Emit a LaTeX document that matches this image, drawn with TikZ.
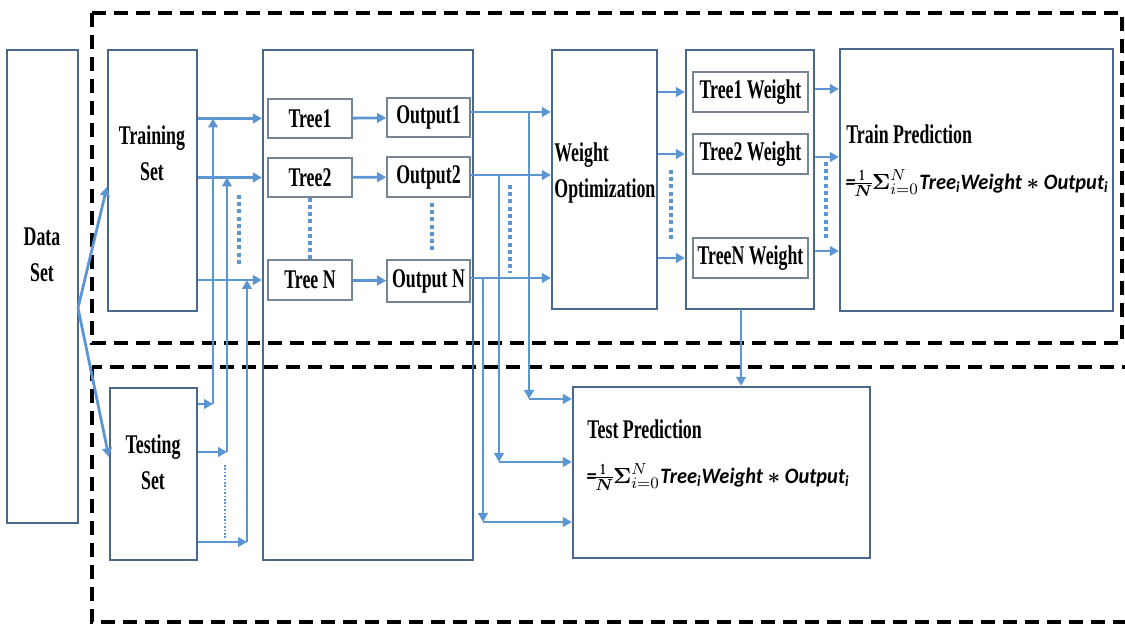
\documentclass[tikz,border=0pt]{standalone}
\usepackage{amsmath}
\usepackage{fontspec}
\setmainfont{Liberation Serif}[FakeStretch=0.66]
\newfontfamily\fml{Carlito}[FakeStretch=0.93]
\usetikzlibrary{arrows.meta,fit}
\definecolor{boxc}{RGB}{72,104,140}
\definecolor{itemc}{RGB}{118,132,148}
\definecolor{arrc}{RGB}{91,150,210}
% weighted-average formula used by both prediction boxes
\newcommand{\wavg}{=\kern-0.6pt$\nulldelimiterspace0pt\frac{\mathbf{1}}{\boldsymbol{N}}\boldsymbol{\Sigma}_{i=0}^{N}$\kern0.3pt Tree\textsubscript{i}Weight $\boldsymbol{*}$ Output\textsubscript{i}}
\begin{document}
\begin{tikzpicture}[x=0.5pt,y=-0.5pt,
  box/.style={draw=boxc,line width=1.1pt,inner sep=0pt},
  item/.style={draw=itemc,line width=0.8pt,inner sep=0pt},
  lbl/.style={font=\fontsize{13.5}{18}\selectfont\bfseries,align=center,inner sep=0pt},
  arr/.style={draw=arrc,line width=1.4pt,-{Triangle[length=4.5pt,width=4.8pt]}},
  dots/.style={draw=arrc,line width=2pt,dash pattern=on 2pt off 1.6pt},
  thindots/.style={draw=arrc,line width=0.6pt,dash pattern=on 0.8pt off 0.9pt},
  region/.style={draw=black,line width=2pt,dash pattern=on 7pt off 4pt},
  fml/.style={font=\fml\bfseries\itshape\fontsize{11}{14}\selectfont,inner sep=0pt,anchor=west}]
\useasboundingbox (0,0) rectangle (1125,625);

% training and testing regions
\draw[region] (92,13) rectangle (1122,343);
\draw[region] (92,367) rectangle (1140,622);

% boxes
\node[box,fit={(7,50)(78,523)}] (ds) {};
\node[box,fit={(108,50)(197,311)}] (train) {};
\node[box,fit={(110,388)(197,560)}] (test) {};
\node[box,fit={(263,50)(473,560)}] (forest) {};
\node[item,fit={(268,99)(352,138)}] (t1) {};
\node[item,fit={(268,158)(352,197)}] (t2) {};
\node[item,fit={(268,260)(352,300)}] (tn) {};
\node[item,fit={(387,98)(470,137)}] (o1) {};
\node[item,fit={(387,157)(470,197)}] (o2) {};
\node[item,fit={(387,260)(470,302)}] (on) {};
\node[box,fit={(552,50)(657,309)}] (wo) {};
\node[box,fit={(686,50)(814,309)}] (wbox) {};
\node[item,fit={(693,72)(808,112)}] (w1) {};
\node[item,fit={(693,134)(808,174)}] (w2) {};
\node[item,fit={(693,238)(808,278)}] (wn) {};
\node[box,fit={(840,49)(1113,311)}] (trainpred) {};
\node[box,fit={(573,387)(870,558)}] (testpred) {};

% labels
\node[lbl] (dslbl) at (42,255) {Data\\Set};
\node[lbl] (trainlbl) at (152,153) {Training\\Set};
\node[lbl] (testlbl) at (153,462) {Testing\\Set};
\node[lbl] (t1lbl) at (t1) {Tree1};
\node[lbl] (t2lbl) at (t2) {Tree2};
\node[lbl] (tnlbl) at (tn) {Tree N};
\node[lbl] (o1lbl) at (o1) {Output1};
\node[lbl] (o2lbl) at (o2) {Output2};
\node[lbl] (onlbl) at (on) {Output N};
\node[lbl,align=left,anchor=west] (wolbl) at (554,173) {Weight\\Optimization};
\node[lbl] (w1lbl) at (w1) {Tree1 Weight};
\node[lbl] (w2lbl) at (w2) {Tree2 Weight};
\node[lbl] (wnlbl) at (wn) {TreeN Weight};
\node[lbl,anchor=west] (trplbl) at (846,134) {Train Prediction};
\node[fml] (trpfml) at (845,183) {\wavg};
\node[lbl,anchor=west] (tsplbl) at (587,429) {Test Prediction};
\node[fml] (tspfml) at (586,477) {\wavg};

% data split
\coordinate (split) at (78,308);
\draw[arr] (split) -- (train.west |- 0,187);
\draw[arr] (split) -- (test.west |- 0,457);

% training set into the trees
\draw[arr] (train.east |- t1) -- (forest.west |- t1);
\draw[arr] (train.east |- t2) -- (forest.west |- t2);
\draw[arr] (train.east |- tn) -- (forest.west |- tn);

% testing set into the trees
\coordinate (c1) at (213,404);
\coordinate (c2) at (227,452);
\coordinate (c3) at (247,542);
\draw[arr] (test.east |- c1) -- (c1);
\draw[arr] (test.east |- c2) -- (c2);
\draw[arr] (test.east |- c3) -- (c3);
\draw[arr] (c1) -- (c1 |- t1);
\draw[arr] (c2) -- (c2 |- t2);
\draw[arr] (c3) -- (c3 |- tn);

% trees to outputs
\draw[arr] (t1) -- (o1);
\draw[arr] (t2) -- (o2);
\draw[arr] (tn) -- (on);

% outputs to weight optimization
\coordinate (b1) at (529,112);
\coordinate (b2) at (499,175);
\coordinate (b3) at (483,278);
\draw[arr] (o1.east |- b1) -- (wo.west |- b1);
\draw[arr] (o2.east |- b2) -- (wo.west |- b2);
\draw[arr] (on.east |- b3) -- (wo.west |- b3);

% outputs to test prediction
\coordinate (d1) at (529,399);
\coordinate (d2) at (499,462);
\coordinate (d3) at (483,522);
\draw[arr] (b1) -- (d1);
\draw[arr] (b2) -- (d2);
\draw[arr] (b3) -- (d3);
\draw[arr] (d1) -- (testpred.west |- d1);
\draw[arr] (d2) -- (testpred.west |- d2);
\draw[arr] (d3) -- (testpred.west |- d3);

% weight optimization to tree weights
\draw[arr] (wo.east |- w1) -- (wbox.west |- w1);
\draw[arr] (wo.east |- w2) -- (wbox.west |- w2);
\draw[arr] (wo.east |- wn) -- (wbox.west |- wn);

% tree weights to train prediction
\draw[arr] (wbox.east |- 0,89) -- (trainpred.west |- 0,89);
\draw[arr] (wbox.east |- 0,157) -- (trainpred.west |- 0,157);
\draw[arr] (wbox.east |- 0,251) -- (trainpred.west |- 0,251);

% tree weights to test prediction
\coordinate (wdrop) at (741,309);
\draw[arr] (wdrop) -- (wdrop |- testpred.north);

% ellipsis marks
\draw[dots] (239,195) -- (239,265);
\draw[thindots] (225,465) -- (225,538);
\draw[dots] (t2.south) -- (t2.south |- tn.north);
\draw[dots] (432,203) -- (432,250);
\draw[dots] (510,185) -- (510,273);
\draw[dots] (671,170) -- (671,242);
\draw[dots] (826,162) -- (826,240);
\end{tikzpicture}
\end{document}
